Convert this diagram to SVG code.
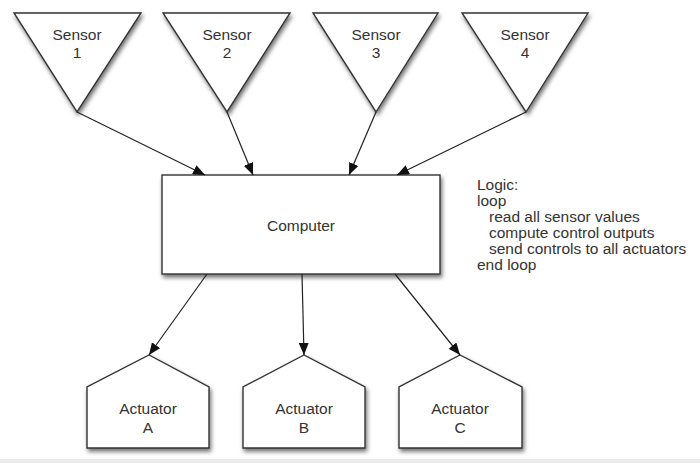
<svg xmlns="http://www.w3.org/2000/svg" width="700" height="463" viewBox="0 0 700 463">
  <defs>
    <filter id="shadow" x="-20%" y="-20%" width="140%" height="150%">
      <feDropShadow dx="1.5" dy="3" stdDeviation="2.2" flood-color="#000" flood-opacity="0.55"/>
    </filter>
    <marker id="arrow" viewBox="0 0 12 10" refX="12" refY="5" markerWidth="12" markerHeight="10" markerUnits="userSpaceOnUse" orient="auto">
      <path d="M0,0 L12,5 L0,10 z" fill="#111"/>
    </marker>
  </defs>
  <style>
    .shape { fill: #fff; stroke: #333; stroke-width: 1.4; filter: url(#shadow); }
    .label { font-family: "Liberation Sans", Arial, sans-serif; font-size: 15.5px; fill: #333; text-anchor: middle; }
    .logic { font-family: "Liberation Sans", Arial, sans-serif; font-size: 15.5px; fill: #333; }
    .conn { fill: none; stroke: #222; stroke-width: 1.2; marker-end: url(#arrow); }
  </style>
  <rect x="0" y="0" width="700" height="463" fill="#fff"/>
  <rect x="0" y="459" width="700" height="4" fill="#ececec"/>

  <g id="sensor1">
    <polygon class="shape" points="14,13 141,13 77,112"/>
    <text class="label" x="77" y="40">Sensor</text>
    <text class="label" x="77" y="58">1</text>
  </g>
  <g id="sensor2">
    <polygon class="shape" points="163,13 290,13 227,112"/>
    <text class="label" x="227" y="40">Sensor</text>
    <text class="label" x="227" y="58">2</text>
  </g>
  <g id="sensor3">
    <polygon class="shape" points="313,13 438,13 376,112"/>
    <text class="label" x="376" y="40">Sensor</text>
    <text class="label" x="376" y="58">3</text>
  </g>
  <g id="sensor4">
    <polygon class="shape" points="462,13 588,13 526,112"/>
    <text class="label" x="525" y="40">Sensor</text>
    <text class="label" x="525" y="58">4</text>
  </g>

  <g id="computer">
    <rect class="shape" x="162" y="175" width="278" height="99"/>
    <text class="label" x="301" y="231">Computer</text>
  </g>

  <g id="logic">
    <text class="logic" x="477" y="190">Logic:</text>
    <text class="logic" x="477" y="206">loop</text>
    <text class="logic" x="489" y="222">read all sensor values</text>
    <text class="logic" x="489" y="238">compute control outputs</text>
    <text class="logic" x="489" y="254">send controls to all actuators</text>
    <text class="logic" x="477" y="270">end loop</text>
  </g>

  <g id="actuatorA">
    <polygon class="shape" points="87,448 87,387 149,355 209,387 209,448"/>
    <text class="label" x="148" y="414">Actuator</text>
    <text class="label" x="148" y="433">A</text>
  </g>
  <g id="actuatorB">
    <polygon class="shape" points="243,448 243,387 304,355 365,387 365,448"/>
    <text class="label" x="304" y="414">Actuator</text>
    <text class="label" x="304" y="433">B</text>
  </g>
  <g id="actuatorC">
    <polygon class="shape" points="399,448 399,387 460,355 522,387 522,448"/>
    <text class="label" x="460" y="414">Actuator</text>
    <text class="label" x="460" y="433">C</text>
  </g>

  <g id="connectors">
    <line class="conn" x1="77" y1="112" x2="205" y2="175"/>
    <line class="conn" x1="227" y1="112" x2="253" y2="175"/>
    <line class="conn" x1="376" y1="112" x2="349" y2="175"/>
    <line class="conn" x1="526" y1="112" x2="397" y2="175"/>
    <line class="conn" x1="207" y1="274" x2="149" y2="355"/>
    <line class="conn" x1="302" y1="274" x2="304" y2="355"/>
    <line class="conn" x1="395" y1="274" x2="460" y2="355"/>
  </g>
</svg>
